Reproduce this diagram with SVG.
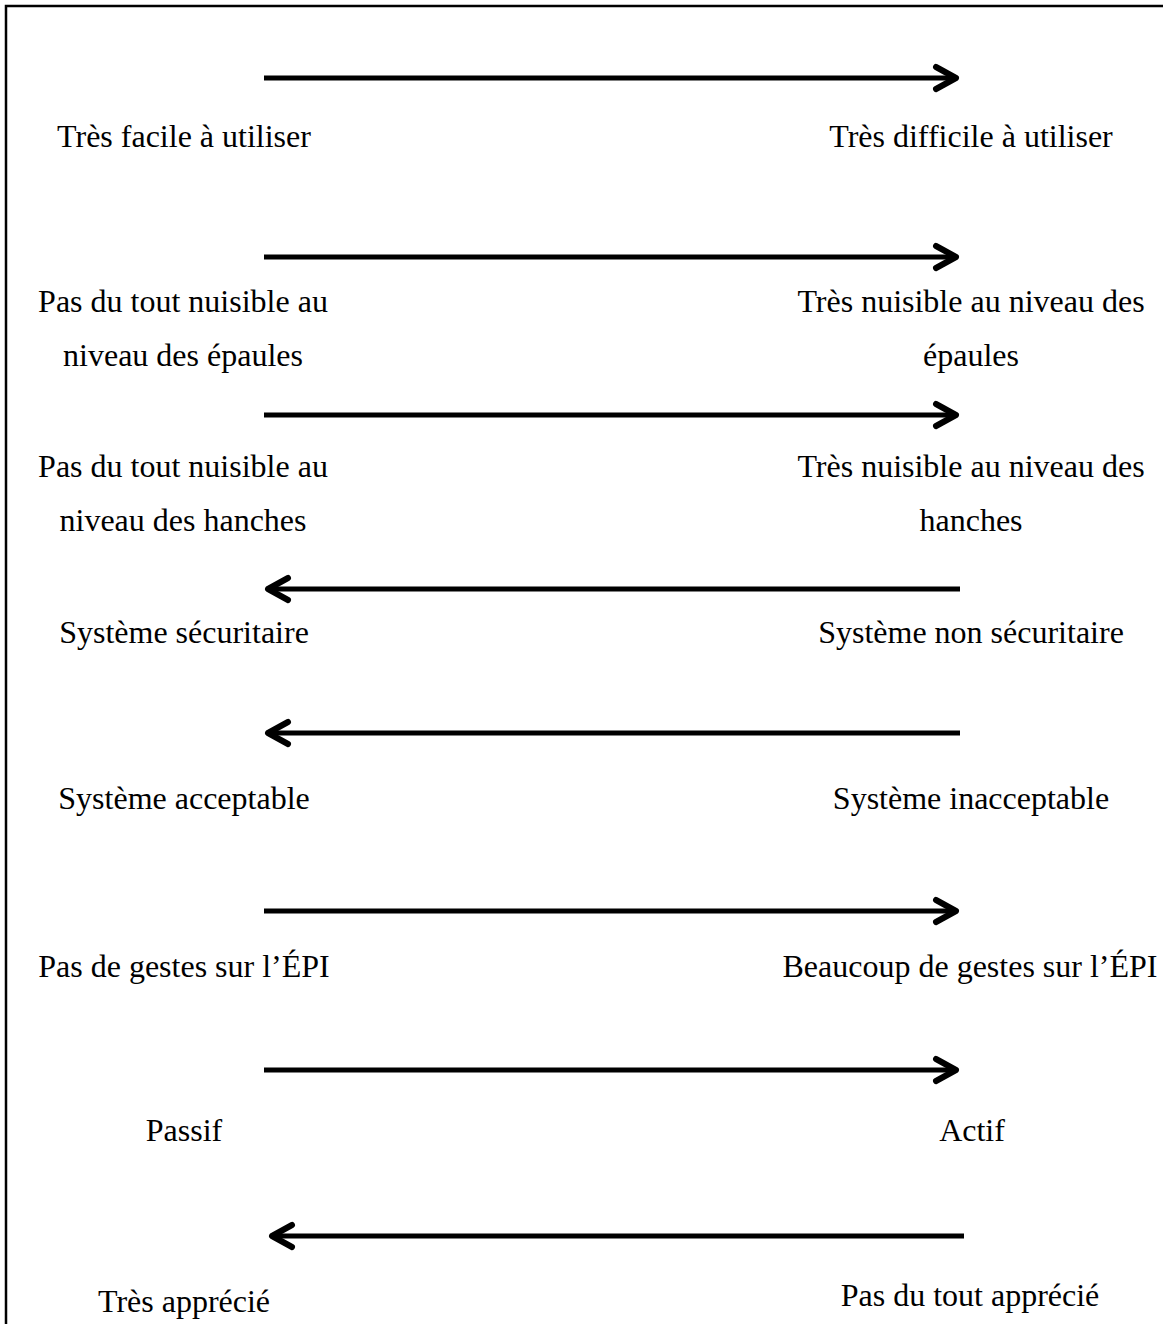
<svg xmlns="http://www.w3.org/2000/svg" width="1163" height="1324" viewBox="0 0 1163 1324">
<style>
  .lbl { font-family: "Liberation Serif", "Times New Roman", serif; font-size: 32px; fill: #000; text-anchor: middle; }
  .arr { stroke: #000; stroke-width: 5; fill: none; marker-end: url(#chev); }
  .frame { stroke: #000; stroke-width: 2.5; fill: none; }
</style>
<defs>
  <marker id="chev" viewBox="-26 -15 30 30" markerWidth="30" markerHeight="30" refX="0" refY="0" markerUnits="userSpaceOnUse" orient="auto">
    <path d="M-20,-11 L0,0 L-20,11" stroke="#000" stroke-width="6" fill="none" stroke-linecap="round" stroke-linejoin="round"/>
  </marker>
</defs>
<rect width="1163" height="1324" fill="#fff"/>
<g id="frame">
  <path class="frame" d="M6,1324 L6,6 L1163,6"/>
</g>
<g id="connectors">
  <path class="arr" d="M264,78 L956,78"/>
  <path class="arr" d="M264,257 L956,257"/>
  <path class="arr" d="M264,415 L956,415"/>
  <path class="arr" d="M960,589 L268,589"/>
  <path class="arr" d="M960,733 L268,733"/>
  <path class="arr" d="M264,911 L956,911"/>
  <path class="arr" d="M264,1070 L956,1070"/>
  <path class="arr" d="M964,1236 L272,1236"/>
</g>
<g id="row1-left"><text class="lbl" x="184" y="147">Très facile à utiliser</text></g>
<g id="row1-right"><text class="lbl" x="971" y="147">Très difficile à utiliser</text></g>
<g id="row2-left"><text class="lbl" x="183" y="312">Pas du tout nuisible au</text><text class="lbl" x="183" y="366">niveau des épaules</text></g>
<g id="row2-right"><text class="lbl" x="971" y="312">Très nuisible au niveau des</text><text class="lbl" x="971" y="366">épaules</text></g>
<g id="row3-left"><text class="lbl" x="183" y="477">Pas du tout nuisible au</text><text class="lbl" x="183" y="531">niveau des hanches</text></g>
<g id="row3-right"><text class="lbl" x="971" y="477">Très nuisible au niveau des</text><text class="lbl" x="971" y="531">hanches</text></g>
<g id="row4-left"><text class="lbl" x="184" y="643">Système sécuritaire</text></g>
<g id="row4-right"><text class="lbl" x="971" y="643">Système non sécuritaire</text></g>
<g id="row5-left"><text class="lbl" x="184" y="809">Système acceptable</text></g>
<g id="row5-right"><text class="lbl" x="971" y="809">Système inacceptable</text></g>
<g id="row6-left"><text class="lbl" x="184" y="977">Pas de gestes sur l’ÉPI</text></g>
<g id="row6-right"><text class="lbl" x="970" y="977">Beaucoup de gestes sur l’ÉPI</text></g>
<g id="row7-left"><text class="lbl" x="184" y="1141">Passif</text></g>
<g id="row7-right"><text class="lbl" x="972" y="1141">Actif</text></g>
<g id="row8-left"><text class="lbl" x="184" y="1312">Très apprécié</text></g>
<g id="row8-right"><text class="lbl" x="970" y="1306">Pas du tout apprécié</text></g>
</svg>
